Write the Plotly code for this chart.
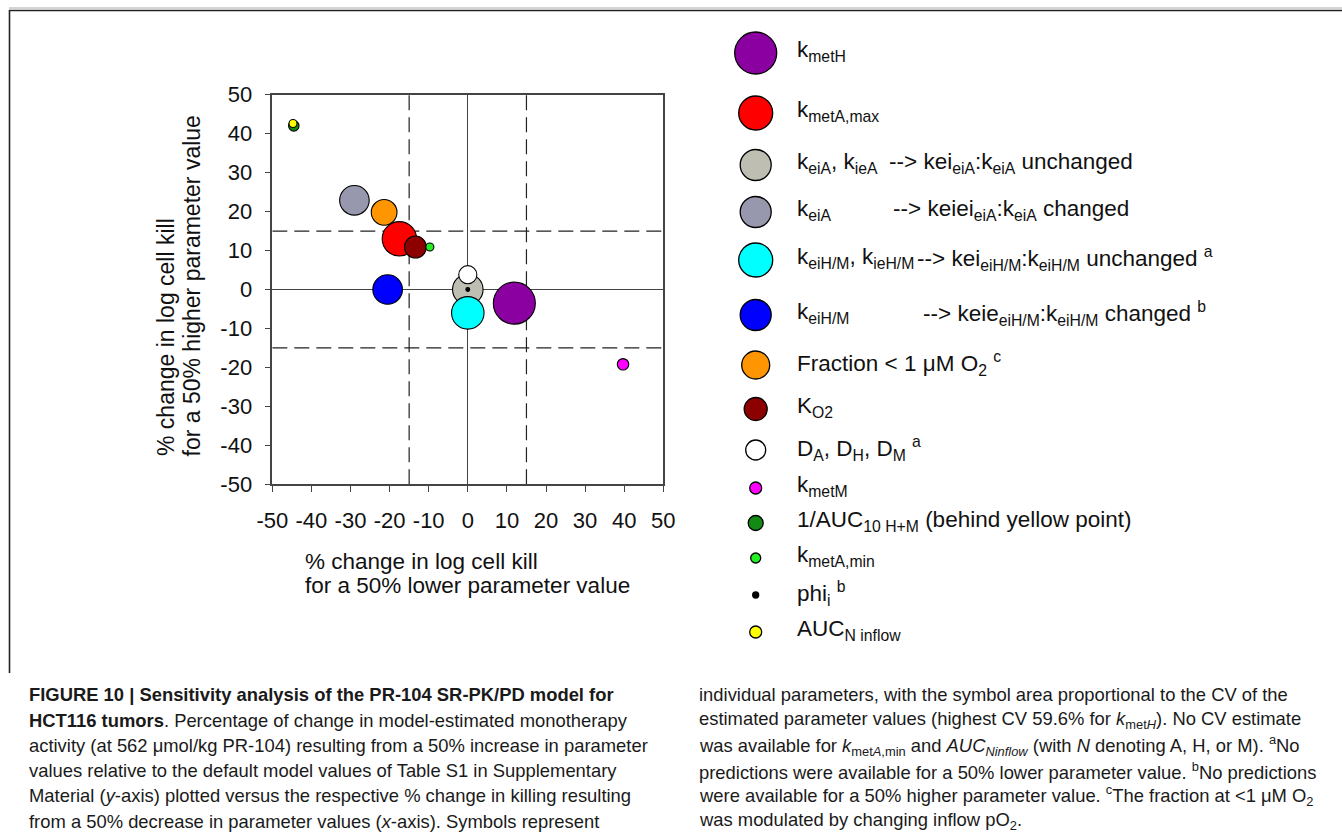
import math
import plotly.graph_objects as go

# ---------------- data ----------------
param_names = [
    "k_metH", "k_metA,max", "k_eiA, k_ieA (ratio unchanged)", "k_eiA (ratio changed)",
    "k_eiH/M, k_ieH/M (ratio unchanged)", "k_eiH/M (ratio changed)", "Fraction < 1 uM O2",
    "K_O2", "D_A, D_H, D_M", "k_metM", "1/AUC10 H+M", "k_metA,min", "phi_i", "AUC_N inflow",
]
# % change in log cell kill for a 50% lower parameter value (x)
pct_change_lower = [11.9, -17.5, 0.0, -29.0, 0.0, -20.5, -21.4, -13.4, 0.0, 39.7, -44.5, -9.7, 0.0, -44.7]
# % change in log cell kill for a 50% higher parameter value (y)
pct_change_higher = [-3.5, 13.0, 0.0, 22.9, -6.0, 0.0, 19.8, 10.9, 3.8, -19.2, 42.0, 10.9, 0.0, 42.6]
# CV (%) of estimated parameter values (symbol area proportional); None = no CV estimate
cv_percent = [59.6, 40.0, 31.5, 29.6, 35.6, 29.6, 22.4, 16.3, 11.1, 4.4, 3.7, None, 0.5, None]

tick_values = [-50, -40, -30, -20, -10, 0, 10, 20, 30, 40, 50]
tick_labels = ["-50", "-40", "-30", "-20", "-10", "0", "10", "20", "30", "40", "50"]
axis_range = [-50, 50]
threshold = 15

legend_labels = [
    "k<sub>metH</sub>",
    "k<sub>metA,max</sub>",
    "k<sub>eiA</sub>, k<sub>ieA</sub>",
    "k<sub>eiA</sub>",
    "k<sub>eiH/M</sub>, k<sub>ieH/M</sub>",
    "k<sub>eiH/M</sub>",
    "Fraction &lt; 1 μM O<sub>2</sub> <sup>c</sup>",
    "K<sub>O2</sub>",
    "D<sub>A</sub>, D<sub>H</sub>, D<sub>M</sub> <sup>a</sup>",
    "k<sub>metM</sub>",
    "1/AUC<sub>10 H+M</sub> (behind yellow point)",
    "k<sub>metA,min</sub>",
    "phi<sub>i</sub> <sup>b</sup>",
    "AUC<sub>N inflow</sub>",
]
legend_arrow_text = [
    None, None,
    "--> kei<sub>eiA</sub>:k<sub>eiA</sub> unchanged",
    "--> keiei<sub>eiA</sub>:k<sub>eiA</sub> changed",
    "--> kei<sub>eiH/M</sub>:k<sub>eiH/M</sub> unchanged <sup>a</sup>",
    "--> keie<sub>eiH/M</sub>:k<sub>eiH/M</sub> changed <sup>b</sup>",
    None, None, None, None, None, None, None, None,
]

x_title_lines = ["% change in log cell kill", "for a 50% lower parameter value"]
y_title_lines = ["% change in log cell kill", "for a 50% higher parameter value"]

caption_left = [
    "<b>FIGURE 10 | Sensitivity analysis of the PR-104 SR-PK/PD model for</b>",
    "<b>HCT116 tumors</b>. Percentage of change in model-estimated monotherapy",
    "activity (at 562 μmol/kg PR-104) resulting from a 50% increase in parameter",
    "values relative to the default model values of Table S1 in Supplementary",
    "Material (<i>y</i>-axis) plotted versus the respective % change in killing resulting",
    "from a 50% decrease in parameter values (<i>x</i>-axis). Symbols represent",
]
caption_right = [
    "individual parameters, with the symbol area proportional to the CV of the",
    "estimated parameter values (highest CV 59.6% for <i>k</i><sub>met<i>H</i></sub>). No CV estimate",
    "was available for <i>k</i><sub>met<i>A</i>,min</sub> and <i>AUC<sub>Ninflow</sub></i> (with <i>N</i> denoting A, H, or M). <sup>a</sup>No",
    "predictions were available for a 50% lower parameter value. <sup>b</sup>No predictions",
    "were available for a 50% higher parameter value. <sup>c</sup>The fraction at &lt;1 μM O<sub>2</sub>",
    "was modulated by changing inflow pO<sub>2</sub>.",
]

# ---------------- styles / layout ----------------
colors = ["#8A00A0", "#FF0000", "#BEBEB2", "#9797AE", "#00FFFF", "#0000FF", "#FF9500",
          "#8C0000", "#FFFFFF", "#FF00FF", "#138A13", "#22EE22", "#000000", "#FFFF00"]
MAX_DIAM = 42          # marker diameter for the highest CV
NO_CV_DIAM = 8
max_cv = max(c for c in cv_percent if c is not None)
marker_sizes = [NO_CV_DIAM if c is None else MAX_DIAM * math.sqrt(c / max_cv) for c in cv_percent]

FONT = "Liberation Sans, Arial, Helvetica, sans-serif"
TXT = "#111111"
AX = "#444444"

W, H = 1342, 839


def px(X):
    return X / W


def py(Y):
    return 1 - Y / H


PLOT_L, PLOT_R, PLOT_T, PLOT_B = 272.3, 663.3, 94.7, 484.3

LEG_X = 755.7
LEG_TEXT_X = 795
LEG_TEXT_DY = -2
LEG_Y = [53, 113, 165, 212, 260, 315, 365, 409, 450, 488, 523, 558, 595, 632]
LEG_D = [42, 34, 31, 31, 34, 31, 28, 23, 20, 12, 15, 10, 6, 12]
ARROW_X = [None, None, 887, 891, 915, 921, None, None, None, None, None, None, None, None]

fig = go.Figure()
fig.add_trace(go.Scatter(
    x=pct_change_lower, y=pct_change_higher, mode="markers",
    text=param_names, hoverinfo="text+x+y",
    marker=dict(size=marker_sizes, color=colors, opacity=1,
                line=dict(color="black", width=1.1)),
    showlegend=False, cliponaxis=False,
))

shapes = []
# dashed threshold lines
for v in (-threshold, threshold):
    shapes.append(dict(type="line", xref="x", yref="y", x0=v, x1=v, y0=axis_range[0], y1=axis_range[1],
                       line=dict(color="#222222", width=1.2, dash="15px,7px"), layer="below"))
    shapes.append(dict(type="line", xref="x", yref="y", y0=v, y1=v, x0=axis_range[0], x1=axis_range[1],
                       line=dict(color="#222222", width=1.2, dash="15px,7px"), layer="below"))
# page frame
shapes.append(dict(type="line", xref="paper", yref="paper", x0=px(9), x1=1.0, y0=py(8), y1=py(8),
                   line=dict(color="#AAAAAA", width=1)))
shapes.append(dict(type="line", xref="paper", yref="paper", x0=px(9), x1=1.0, y0=py(10.5), y1=py(10.5),
                   line=dict(color="#222222", width=1.6)))
shapes.append(dict(type="line", xref="paper", yref="paper", x0=px(9.5), x1=px(9.5), y0=py(10), y1=py(673),
                   line=dict(color="#222222", width=1.6)))
# legend symbols
for yc, d, col in zip(LEG_Y, LEG_D, colors):
    shapes.append(dict(type="circle", xref="paper", yref="paper", xsizemode="pixel", ysizemode="pixel",
                       xanchor=px(LEG_X), yanchor=py(yc), x0=-d / 2, x1=d / 2, y0=-d / 2, y1=d / 2,
                       fillcolor=col, line=dict(color="black", width=1.3)))

annotations = []
# legend texts
for yc, lab, arr, ax_ in zip(LEG_Y, legend_labels, legend_arrow_text, ARROW_X):
    annotations.append(dict(xref="paper", yref="paper", x=px(LEG_TEXT_X), y=py(yc + LEG_TEXT_DY), text=lab,
                            xanchor="left", yanchor="middle", showarrow=False,
                            font=dict(family=FONT, size=22.5, color=TXT)))
    if arr:
        annotations.append(dict(xref="paper", yref="paper", x=px(ax_), y=py(yc + LEG_TEXT_DY), text=arr,
                                xanchor="left", yanchor="middle", showarrow=False,
                                font=dict(family=FONT, size=22.5, color=TXT)))
# axis titles
for yy, t in zip((561, 585), x_title_lines):
    annotations.append(dict(xref="paper", yref="paper", x=px(303), y=py(yy), text=t, xanchor="left",
                            yanchor="middle", showarrow=False, font=dict(family=FONT, size=22.5, color=TXT)))
for xx, t in zip((166, 191), y_title_lines):
    annotations.append(dict(xref="paper", yref="paper", x=px(xx), y=py(458), text=t, xanchor="center",
                            yanchor="bottom", textangle=-90, showarrow=False,
                            font=dict(family=FONT, size=23, color=TXT)))
# caption
CAP_Y = [694.5, 720, 745.5, 770.5, 795.5, 821]
for yy, t in zip(CAP_Y, caption_left):
    annotations.append(dict(xref="paper", yref="paper", x=px(27), y=py(yy), text=t, xanchor="left",
                            yanchor="middle", showarrow=False, font=dict(family=FONT, size=18.4, color="#1a1a1a")))
for yy, t in zip(CAP_Y, caption_right):
    annotations.append(dict(xref="paper", yref="paper", x=px(697), y=py(yy), text=t, xanchor="left",
                            yanchor="middle", showarrow=False, font=dict(family=FONT, size=18.4, color="#1a1a1a")))

axis_common = dict(range=axis_range, tickmode="array", tickvals=tick_values, ticktext=tick_labels,
                   tickangle=0, showgrid=False, zeroline=True, automargin=False,
                   zerolinecolor=AX, zerolinewidth=1.2, showline=True, linecolor=AX, linewidth=1.5,
                   mirror=True, ticks="outside", ticklen=6, tickwidth=1.2, tickcolor=AX,
                   tickfont=dict(family=FONT, size=22, color=TXT), fixedrange=True)

fig.update_layout(
    template="none",
    width=W, height=H, autosize=False,
    margin=dict(l=0, r=0, t=0, b=0, pad=0),
    paper_bgcolor="white", plot_bgcolor="white",
    xaxis=dict(domain=[px(PLOT_L), px(PLOT_R)], ticklabelstandoff=10, **axis_common),
    yaxis=dict(domain=[py(PLOT_B), py(PLOT_T)], ticklabelstandoff=8, **axis_common),
    shapes=shapes, annotations=annotations, showlegend=False,
    font=dict(family=FONT, color=TXT),
)

fig.write_html(
    "out.html",
    config={"displayModeBar": False},
    post_script="document.body.style.margin='0';document.body.style.overflow='hidden';",
)
